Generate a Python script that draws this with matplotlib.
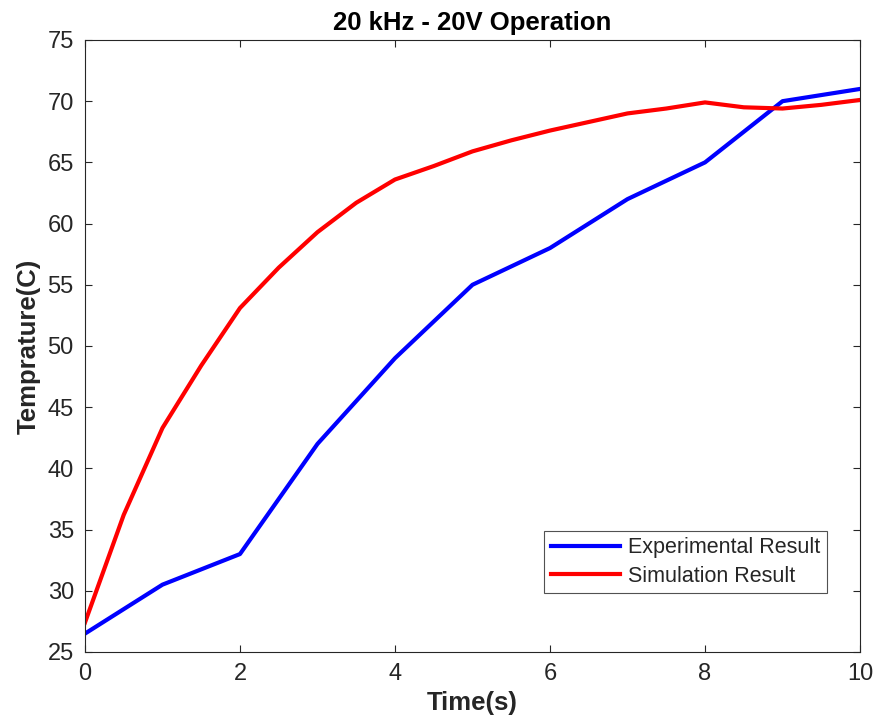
import matplotlib
matplotlib.use("Agg")
import matplotlib.pyplot as plt

# experimental measurements
exp_time = [0, 1, 2, 3, 4, 5, 6, 7, 8, 9, 10]
exp_temp = [26.5, 30.5, 33, 42, 49, 55, 58, 62, 65, 70, 71]

# simulation curve
sim_time = [0, 0.5, 1, 1.5, 2, 2.5, 3, 3.5, 4, 4.5, 5, 5.5, 6, 6.5, 7, 7.5, 8, 8.5, 9, 9.5, 10]
sim_temp = [27.4, 36.2, 43.3, 48.4, 53.1, 56.4, 59.3, 61.7, 63.6, 64.7, 65.9, 66.8,
            67.6, 68.3, 69.0, 69.4, 69.9, 69.5, 69.4, 69.7, 70.1]

x_ticks = [0, 2, 4, 6, 8, 10]
y_ticks = [25, 30, 35, 40, 45, 50, 55, 60, 65, 70, 75]

plt.rcParams["font.family"] = ["Liberation Sans", "DejaVu Sans"]
dark = "#262626"

fig = plt.figure(figsize=(8.75, 7.27), dpi=100)
ax = fig.add_axes([0.0971, 0.1032, 0.8858, 0.8418])

ax.plot(exp_time, exp_temp, color="#0000ff", linewidth=3, label="Experimental Result")
ax.plot(sim_time, sim_temp, color="#ff0000", linewidth=3, label="Simulation Result")

ax.set_xlim(0, 10)
ax.set_ylim(25, 75)
ax.set_xticks(x_ticks)
ax.set_yticks(y_ticks)
ax.tick_params(direction="in", top=True, right=True, length=5, width=0.8,
               labelsize=17, colors=dark, pad=8)
for s in ax.spines.values():
    s.set_color(dark)
    s.set_linewidth(0.8)

ax.set_title("20 kHz - 20V Operation", fontsize=18.5, fontweight="bold", color="black", pad=7)
ax.set_xlabel("Time(s)", fontsize=18.5, fontweight="bold", color=dark, labelpad=4)
ax.set_ylabel("Temprature(C)", fontsize=18.5, fontweight="bold", color=dark, labelpad=5)

leg = ax.legend(loc="lower right", bbox_to_anchor=(0.957, 0.0964), fontsize=15.5,
                frameon=True, fancybox=False, edgecolor=dark, borderaxespad=0,
                handlelength=3.25, handletextpad=0.35, labelspacing=0.33,
                borderpad=0.3)
leg.get_frame().set_linewidth(0.8)
for t in leg.get_texts():
    t.set_color(dark)

fig.savefig("out.png", dpi=100)
